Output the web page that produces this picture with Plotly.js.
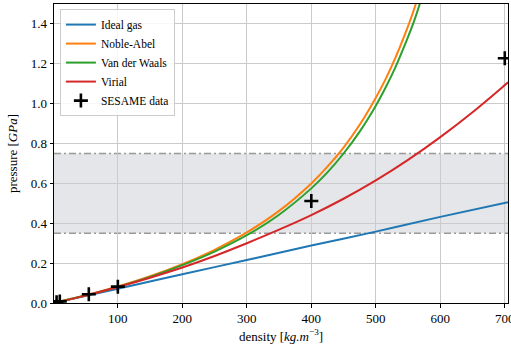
<!DOCTYPE html>
<html>
<head>
<meta charset="utf-8">
<script src="https://cdn.plot.ly/plotly-3.0.1.min.js"></script>
<style>html,body{margin:0;padding:0;background:#fff;}#chart{width:511px;height:347px;}</style>
</head>
<body>
<div id="chart"></div>
<script>
// Densities (kg/m^3) and pressures (GPa)
const rhoIdeal = [5, 100, 200, 300, 400, 500, 600, 705];
const pIdeal   = [0.0036, 0.072, 0.144, 0.216, 0.288, 0.358, 0.432, 0.506];

const rhoNoble = [5, 50, 100, 150, 200, 250, 300, 350, 400, 425, 450, 475, 500, 515, 530, 545, 560, 580];
const pNoble   = [0.0036, 0.0385, 0.0828, 0.134, 0.195, 0.267, 0.354, 0.462, 0.600, 0.684, 0.780, 0.894, 1.030, 1.122, 1.227, 1.346, 1.480, 1.700];

const rhoVdW = [5, 50, 100, 150, 200, 250, 300, 350, 400, 425, 450, 475, 500, 515, 530, 545, 560, 585];
const pVdW   = [0.0036, 0.038, 0.081, 0.131, 0.190, 0.258, 0.340, 0.443, 0.575, 0.655, 0.750, 0.860, 0.990, 1.080, 1.180, 1.295, 1.420, 1.680];

const rhoVirial = [5, 50, 100, 150, 200, 250, 300, 350, 400, 450, 500, 550, 600, 650, 700, 705];
const pVirial   = [0.0036, 0.037, 0.080, 0.127, 0.178, 0.236, 0.300, 0.368, 0.441, 0.523, 0.615, 0.718, 0.832, 0.957, 1.093, 1.107];

const rhoSesame = [5, 10, 55, 100, 400, 700];
const pSesame   = [0.004, 0.008, 0.044, 0.082, 0.512, 1.228];

const bandLow = 0.35, bandHigh = 0.75;

const seriesNames = ["Ideal gas", "Noble-Abel", "Van der Waals", "Virial", "SESAME data"];
const colors = ["#1f77b4", "#ff7f0e", "#2ca02c", "#d62728"];

const FONT = "Liberation Serif, Times New Roman, serif";

const traces = [
  {x: rhoIdeal, y: pIdeal, name: seriesNames[0]},
  {x: rhoNoble, y: pNoble, name: seriesNames[1]},
  {x: rhoVdW, y: pVdW, name: seriesNames[2]},
  {x: rhoVirial, y: pVirial, name: seriesNames[3]}
].map((t, i) => Object.assign(t, {
  type: "scatter", mode: "lines", line: {color: colors[i], width: 2, shape: "spline", smoothing: 1}
}));

traces.push({
  x: rhoSesame, y: pSesame, name: seriesNames[4], type: "scatter", mode: "markers",
  marker: {symbol: "cross-thin", size: 10, color: "black", line: {color: "black", width: 2.6}}
});

const layout = {
  width: 511, height: 347,
  margin: {l: 54, r: 3, t: 4, b: 44},
  paper_bgcolor: "#fff", plot_bgcolor: "#fff",
  font: {family: FONT, size: 13, color: "#000"},
  showlegend: true,
  legend: {
    x: 0.013, y: 0.983, xanchor: "left", yanchor: "top",
    bgcolor: "rgba(255,255,255,0.85)", bordercolor: "#cccccc", borderwidth: 1,
    font: {family: FONT, size: 11.5}, itemwidth: 30, tracegroupgap: 0
  },
  xaxis: {
    range: [1, 705], dtick: 100, tick0: 0,
    showgrid: true, gridcolor: "#cbcbcb", gridwidth: 1,
    zeroline: false, showline: true, mirror: true, linecolor: "#000", linewidth: 1,
    ticks: "outside", ticklen: 3.5, tickcolor: "#000",
    ticklabeloverflow: "allow",
    tickfont: {family: FONT, size: 13},
    title: {text: "density [<i>kg.m</i><sup>−3</sup>]", font: {family: FONT, size: 13}, standoff: 6}
  },
  yaxis: {
    range: [0, 1.5], dtick: 0.2, tick0: 0, tickformat: ".1f",
    showgrid: true, gridcolor: "#cbcbcb", gridwidth: 1,
    zeroline: false, showline: true, mirror: true, linecolor: "#000", linewidth: 1,
    ticks: "outside", ticklen: 3.5, tickcolor: "#000",
    tickfont: {family: FONT, size: 13},
    title: {text: "pressure [<i>GPa</i>]", font: {family: FONT, size: 13}, standoff: 10}
  },
  shapes: [
    {type: "rect", xref: "paper", x0: 0, x1: 1, yref: "y", y0: bandLow, y1: bandHigh,
     fillcolor: "#e4e6e9", line: {width: 0}, layer: "below"},
    {type: "line", xref: "paper", x0: 0, x1: 1, yref: "y", y0: bandLow, y1: bandLow,
     line: {color: "#999999", width: 1.3, dash: "7px,3px,2px,3px"}, layer: "between"},
    {type: "line", xref: "paper", x0: 0, x1: 1, yref: "y", y0: bandHigh, y1: bandHigh,
     line: {color: "#999999", width: 1.3, dash: "7px,3px,2px,3px"}, layer: "between"}
  ]
};

Plotly.newPlot("chart", traces, layout, {displayModeBar: false, staticPlot: true});
</script>
</body>
</html>
